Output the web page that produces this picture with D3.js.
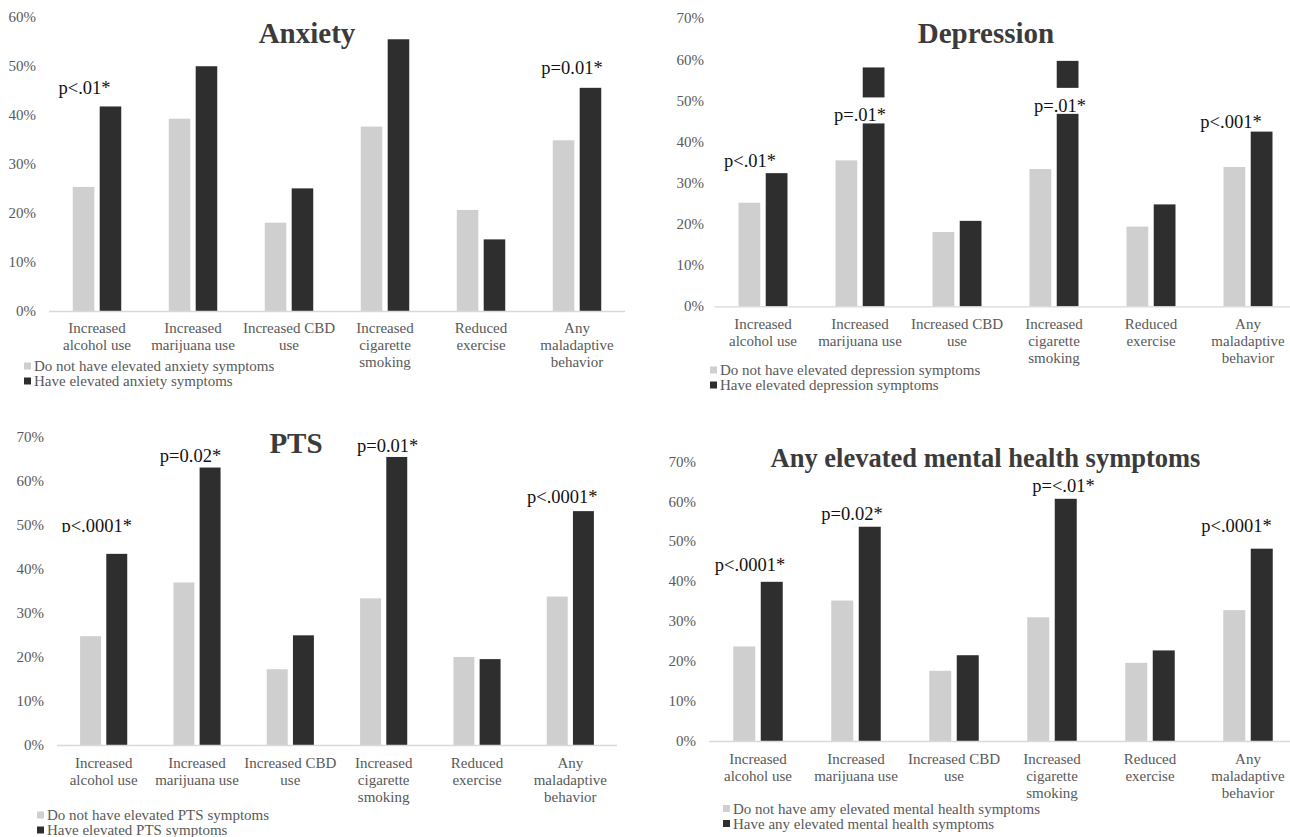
<!DOCTYPE html>
<html>
<head>
<meta charset="utf-8">
<script src="https://cdn.jsdelivr.net/npm/d3@7"></script>
<style>
  body { margin: 0; background: #fff; }
  svg { display: block; }
</style>
</head>
<body>
<svg id="chart" width="1290" height="837"></svg>
<script>
// ---- data -------------------------------------------------------------
const categories = [
  "Increased alcohol use",
  "Increased marijuana use",
  "Increased CBD use",
  "Increased cigarette smoking",
  "Reduced exercise",
  "Any maladaptive behavior"
];
const categoryLines = [
  ["Increased", "alcohol use"],
  ["Increased", "marijuana use"],
  ["Increased CBD", "use"],
  ["Increased", "cigarette", "smoking"],
  ["Reduced", "exercise"],
  ["Any", "maladaptive", "behavior"]
];
const seriesKeys = ["without", "with"];

// percentages by category
const anxietyWithout    = [25.3, 39.2, 18.0, 37.6, 20.6, 34.8];
const anxietyWith       = [41.7, 49.9, 25.0, 55.4, 14.6, 45.5];
const depressionWithout = [25.2, 35.5, 18.1, 33.4, 19.4, 33.9];
const depressionWith    = [32.4, 58.1, 20.8, 59.7, 24.8, 42.5];
const ptsWithout        = [24.7, 36.9, 17.2, 33.3, 20.0, 33.7];
const ptsWith           = [43.4, 63.0, 24.9, 65.4, 19.5, 53.1];
const anyWithout        = [23.7, 35.2, 17.6, 31.0, 19.6, 32.8];
const anyWith           = [39.9, 53.7, 21.5, 60.7, 22.7, 48.2];

const ticks60 = [0, 10, 20, 30, 40, 50, 60];
const ticks70 = [0, 10, 20, 30, 40, 50, 60, 70];

// significance labels: category index and text
const anxietyP    = [{ cat: 0, text: "p<.01*" }, { cat: 5, text: "p=0.01*" }];
const depressionP = [{ cat: 0, text: "p<.01*" }, { cat: 1, text: "p=.01*" },
                     { cat: 3, text: "p=.01*" }, { cat: 5, text: "p<.001*" }];
const ptsP        = [{ cat: 0, text: "p<.0001*" }, { cat: 1, text: "p=0.02*" },
                     { cat: 3, text: "p=0.01*" }, { cat: 5, text: "p<.0001*" }];
const anyP        = [{ cat: 0, text: "p<.0001*" }, { cat: 1, text: "p=0.02*" },
                     { cat: 3, text: "p=<.01*" }, { cat: 5, text: "p<.0001*" }];

const anxietyLegend    = ["Do not have elevated anxiety symptoms", "Have elevated anxiety symptoms"];
const depressionLegend = ["Do not have elevated depression symptoms", "Have elevated depression symptoms"];
const ptsLegend        = ["Do not have elevated PTS symptoms", "Have elevated PTS symptoms"];
const anyLegend        = ["Do not have amy elevated mental health symptoms", "Have any elevated mental health symptoms"];

// ---- layout / style ---------------------------------------------------
const COLORS = { without: "#cfcfcf", with: "#2e2e2e" };
const SERIF = "'Liberation Serif', 'Times New Roman', serif";
const GREY = "#595959";

const panels = [
  { title: "Anxiety", titleSize: 29, titleX: 307, titleY: 43,
    without: anxietyWithout, with: anxietyWith, ticks: ticks60, pvals: anxietyP, legend: anxietyLegend,
    left: 49, right: 625, y0: 311, yTop: 16.7, tickRight: 36,
    catY: 333, legendX: 24, legendY: 371,
    pOffsets: [[-12.5, -12], [-5, -14]] },
  { title: "Depression", titleSize: 29, titleX: 986, titleY: 43,
    without: depressionWithout, with: depressionWith, ticks: ticks70, pvals: depressionP, legend: depressionLegend,
    left: 714.5, right: 1296.5, y0: 306.4, yTop: 18.5, tickRight: 704,
    catY: 329, legendX: 710, legendY: 375,
    pOffsets: [[-13, -6], [0, 54, true], [6, 51, true], [-17, -4]] },
  { title: "PTS", titleSize: 29, titleX: 296, titleY: 453,
    without: ptsWithout, with: ptsWith, ticks: ticks70, pvals: ptsP, legend: ptsLegend,
    left: 57, right: 617, y0: 745, yTop: 436.7, tickRight: 44,
    catY: 768, legendX: 37, legendY: 820,
    pOffsets: [[-7, -22, false, true], [-6.5, -5.5], [4, -5], [-8, -8]] },
  { title: "Any elevated mental health symptoms", titleSize: 26.5, titleX: 985.5, titleY: 467,
    without: anyWithout, with: anyWith, ticks: ticks70, pvals: anyP, legend: anyLegend,
    left: 709, right: 1297, y0: 741, yTop: 461.7, tickRight: 696,
    catY: 763.5, legendX: 723, legendY: 813.5,
    pOffsets: [[-8, -11], [-4, -7], [11.5, -7], [-11.5, -17]] }
];

const svg = d3.select("#chart");
const defs = svg.append("defs");

panels.forEach((p, pi) => {
  const g = svg.append("g");
  const yMax = p.ticks[p.ticks.length - 1];
  const y = d3.scaleLinear().domain([0, yMax]).range([p.y0, p.yTop]);
  const x0 = d3.scaleBand().domain(categories).range([p.left, p.right])
    .paddingInner(0.495).paddingOuter(0.2475);
  const x1 = d3.scaleBand().domain(seriesKeys).range([0, x0.bandwidth()]).paddingInner(0.2);

  // y tick labels
  g.selectAll(".tick").data(p.ticks).join("text")
    .attr("x", p.tickRight).attr("y", d => y(d)).attr("dy", "0.33em")
    .attr("text-anchor", "end")
    .style("font-family", SERIF).style("font-size", "15px").style("fill", GREY)
    .text(d => d + "%");

  // bars
  const rows = categories.map((c, i) => ({ cat: c, without: p.without[i], with: p.with[i] }));
  const grp = g.selectAll(".grp").data(rows).join("g")
    .attr("transform", d => `translate(${x0(d.cat)},0)`);
  grp.selectAll("rect").data(d => seriesKeys.map(k => ({ key: k, value: d[k] }))).join("rect")
    .attr("x", d => x1(d.key)).attr("width", x1.bandwidth())
    .attr("y", d => y(d.value)).attr("height", d => y(0) - y(d.value))
    .attr("fill", d => COLORS[d.key]);

  // baseline
  g.append("line").attr("x1", p.left).attr("x2", p.right)
    .attr("y1", p.y0 + 0.5).attr("y2", p.y0 + 0.5)
    .attr("stroke", "#d9d9d9").attr("stroke-width", 1.3);

  // category labels
  const cl = g.selectAll(".cat").data(categories).join("text")
    .attr("text-anchor", "middle")
    .style("font-family", SERIF).style("font-size", "15px").style("fill", GREY);
  cl.each(function (c, i) {
    const cx = x0(c) + x0.bandwidth() / 2;
    d3.select(this).selectAll("tspan").data(categoryLines[i]).join("tspan")
      .attr("x", cx).attr("y", (d, j) => p.catY + j * 17).text(d => d);
  });

  // title
  g.append("text").attr("x", p.titleX).attr("y", p.titleY).attr("text-anchor", "middle")
    .style("font-family", SERIF).style("font-weight", "bold")
    .style("font-size", p.titleSize + "px").style("fill", "#3b3b3b")
    .text(p.title);

  // legend
  const lg = g.append("g");
  p.legend.forEach((t, i) => {
    const ly = p.legendY + i * 15;
    lg.append("rect").attr("x", p.legendX).attr("y", ly - 8.5).attr("width", 7).attr("height", 7)
      .attr("fill", COLORS[seriesKeys[i]]);
    lg.append("text").attr("x", p.legendX + 10).attr("y", ly)
      .style("font-family", SERIF).style("font-size", "15px").style("fill", GREY).text(t);
  });

  // significance labels
  p.pvals.forEach((pv, k) => {
    const [dx, dy, boxed, clipped] = p.pOffsets[k];
    const c = categories[pv.cat];
    const cx = x0(c) + x0.bandwidth() / 2 + dx;
    const by = y(p.with[pv.cat]) + dy;
    const lab = g.append("g");
    const bg = lab.append("rect").attr("fill", "#fff");
    const t = lab.append("text").attr("x", cx).attr("y", by).attr("text-anchor", "middle")
      .style("font-family", SERIF).style("font-size", "18.5px").style("fill", "#111")
      .text(pv.text);
    if (boxed) {
      const w = t.node().getComputedTextLength();
      bg.attr("x", cx - w / 2 - 3).attr("width", w + 6)
        .attr("y", by - 24).attr("height", 26);
    } else {
      bg.remove();
    }
    if (clipped) {
      const id = `clip-${pi}-${k}`;
      defs.append("clipPath").attr("id", id).append("rect")
        .attr("x", cx - 60).attr("width", 120).attr("y", by - 30).attr("height", 30.5);
      t.attr("clip-path", `url(#${id})`);
    }
  });
});
</script>
</body>
</html>
